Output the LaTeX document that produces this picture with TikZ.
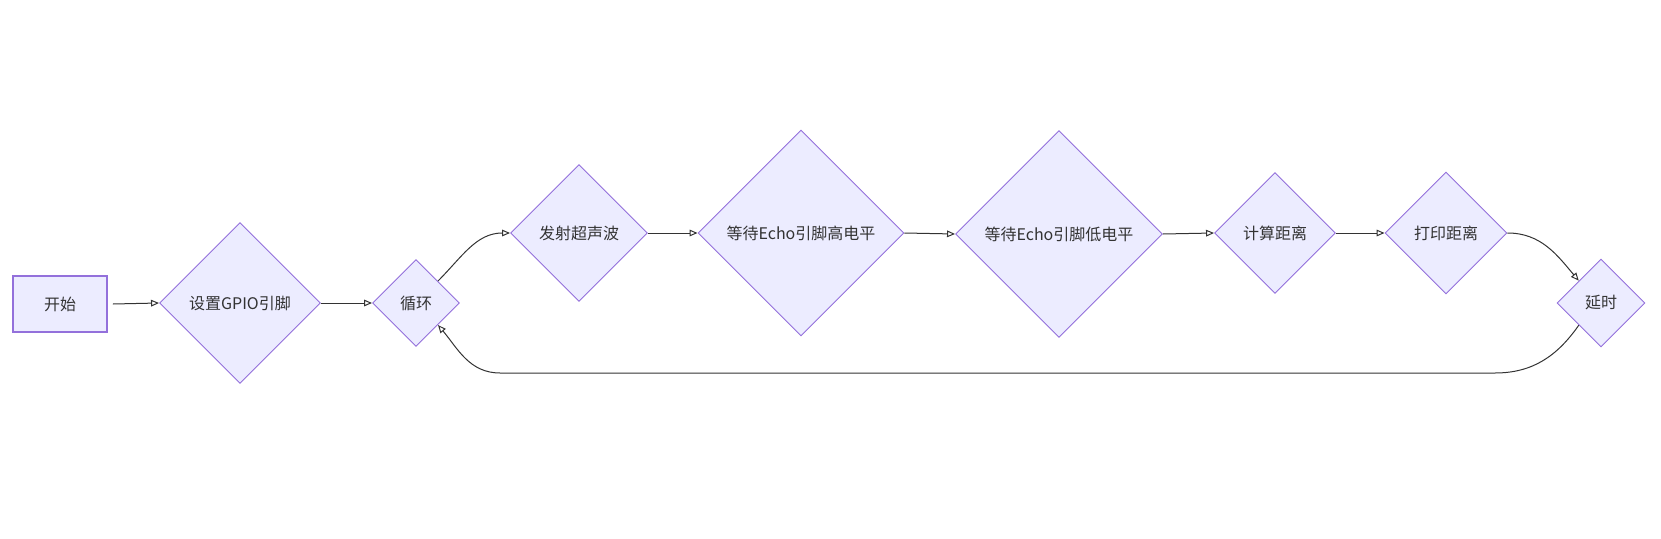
\documentclass[tikz,border=0pt]{standalone}
\usepackage{fontspec}
\setmainfont{Noto Sans CJK SC}
\usetikzlibrary{shapes.geometric,arrows.meta}
\definecolor{boxfill}{HTML}{ECECFF}
\definecolor{boxline}{HTML}{9370DB}
\definecolor{ink}{HTML}{333333}
\tikzset{
  stepbox/.style={draw=boxline,fill=boxfill,line width=0.9pt,text=ink,
    font=\fontsize{12pt}{14pt}\selectfont,inner sep=0pt},
  cond/.style={stepbox,diamond,line width=0.7pt,minimum width=#1*0.75pt,minimum height=#1*0.75pt},
  flow/.style={draw=ink,line width=0.75pt,-{Triangle[open,length=6pt,width=5pt]}}
}
\begin{document}
\begin{tikzpicture}[x=0.75pt,y=-0.75pt]
        \useasboundingbox (0,0) rectangle (1661,539);
        \node[stepbox,minimum width=70.5pt,minimum height=42pt] (start) at (60,304) {开始};
        \node[cond=161] (gpio) at (240,303) {设置GPIO引脚};
        \node[cond=87] (loop) at (416,303) {循环};
        \node[cond=137] (emit) at (579,233) {发射超声波};
        \node[cond=206] (high) at (801,233) {等待Echo引脚高电平};
        \node[cond=207] (low) at (1059,234) {等待Echo引脚低电平};
        \node[cond=121] (calc) at (1275,233) {计算距离};
        \node[cond=122] (print) at (1446,233) {打印距离};
        \node[cond=88] (delay) at (1601,303) {延时};

        \coordinate (backr) at (1495,373); % Bottom of the way back.
        \coordinate (backl) at (500,373);

        \draw[flow] ([xshift=4pt]start.east) -- (gpio.west);
        \draw[flow] (gpio.east) -- (loop.west);
        \draw[flow] (loop.north east) to[out=45,in=180] (emit.west);
        \draw[flow] (emit.east) -- (high.west);
        \draw[flow] (high.east) -- (low.west);
        \draw[flow] (low.east) -- (calc.west);
        \draw[flow] (calc.east) -- (print.west);
        \draw[flow] (print.east) to[out=0,in=130] (delay.north west);
        \draw[flow] (delay.south west) to[out=235,in=0] (backr) -- (backl)
          to[out=180,in=-50] (loop.south east); % Loop back.
      \end{tikzpicture}
\end{document}
